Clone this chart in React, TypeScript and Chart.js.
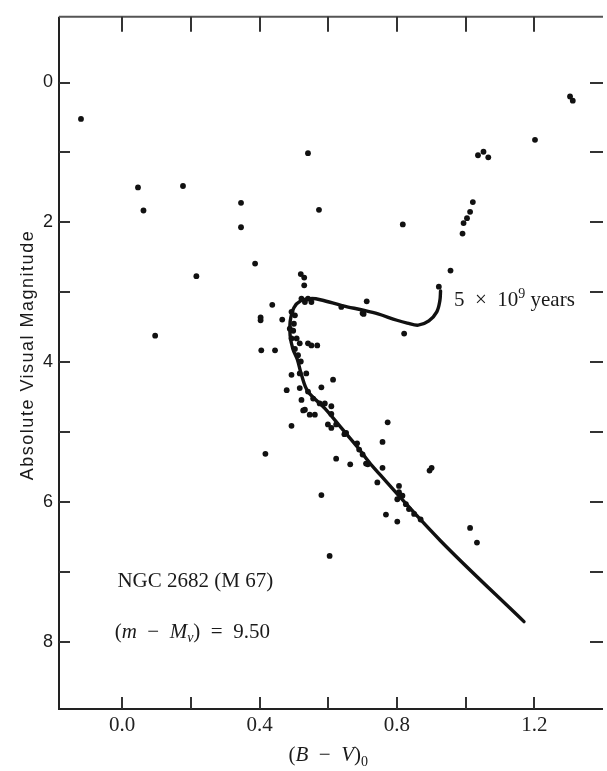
import React, { useEffect, useRef } from "react";
import { Chart, registerables } from "chart.js";

Chart.register(...registerables);

// Star colours (B-V)0 and absolute visual magnitudes
const starBV = [
  -0.12, 0.046, 0.062, 0.177, 0.346, 0.346, 0.387, 0.541, 0.573, 0.817,
  1.021, 1.013, 1.004, 0.994, 0.991, 1.036, 1.052, 1.066, 1.202, 1.304,
  1.312, 0.216, 0.096, 0.437, 0.403, 0.403, 0.466, 0.405, 0.445, 0.479,
  0.493, 0.417, 0.956, 0.922, 0.712, 0.821, 0.638, 0.7, 0.614, 0.58,
  0.773, 0.758, 0.684, 0.623, 0.664, 0.758, 0.895, 0.901, 0.58, 0.768,
  0.801, 1.013, 1.033, 0.604, 0.52, 0.53, 0.53, 0.522, 0.541, 0.551,
  0.532, 0.493, 0.503, 0.703, 0.488, 0.493, 0.508, 0.517, 0.551, 0.568,
  0.503, 0.512, 0.52, 0.493, 0.517, 0.536, 0.517, 0.541, 0.522, 0.556,
  0.575, 0.59, 0.609, 0.527, 0.546, 0.561, 0.609, 0.599, 0.623, 0.609,
  0.652, 0.71, 0.715, 0.743, 0.806, 0.806, 0.816, 0.801, 0.826, 0.835,
  0.869, 0.85, 0.541, 0.532, 0.647, 0.498, 0.5, 0.69, 0.7,
];
const starMv = [
  0.52, 1.5, 1.83, 1.48, 1.72, 2.07, 2.59, 1.01, 1.82, 2.03,
  1.71, 1.85, 1.94, 2.01, 2.16, 1.04, 0.99, 1.07, 0.82, 0.2,
  0.26, 2.77, 3.62, 3.18, 3.36, 3.4, 3.39, 3.83, 3.83, 4.4,
  4.91, 5.31, 2.69, 2.92, 3.13, 3.59, 3.21, 3.3, 4.25, 4.36,
  4.86, 5.14, 5.16, 5.38, 5.46, 5.51, 5.55, 5.51, 5.9, 6.18,
  6.28, 6.37, 6.58, 6.77, 2.74, 2.79, 2.9, 3.09, 3.09, 3.14,
  3.14, 3.28, 3.33, 3.31, 3.52, 3.66, 3.66, 3.73, 3.76, 3.76,
  3.81, 3.9, 3.99, 4.18, 4.16, 4.16, 4.37, 4.42, 4.54, 4.52,
  4.59, 4.59, 4.63, 4.69, 4.75, 4.75, 4.74, 4.89, 4.89, 4.94,
  5.01, 5.45, 5.46, 5.72, 5.77, 5.86, 5.91, 5.96, 6.03, 6.1,
  6.25, 6.17, 3.73, 4.68, 5.03, 3.55, 3.45, 5.25, 5.32,
];

// 5 x 10^9 year isochrone
const isoBV = [
  0.927, 0.925, 0.916, 0.893, 0.862, 0.83, 0.8, 0.745, 0.705, 0.64,
  0.58, 0.55, 0.52, 0.5, 0.489, 0.489, 0.497, 0.51, 0.522, 0.541,
  0.59, 0.638, 0.686, 0.724, 0.926, 1.17,
];
const isoMv = [
  2.98, 3.12, 3.28, 3.41, 3.47, 3.44, 3.4, 3.31, 3.26, 3.19,
  3.11, 3.09, 3.12, 3.22, 3.42, 3.62, 3.81, 3.96, 4.18, 4.42,
  4.66, 4.94, 5.22, 5.46, 6.55, 7.71,
];

const xTickValues = [0, 0.2, 0.4, 0.6, 0.8, 1.0, 1.2];
const xLabelValues = [0, 0.4, 0.8, 1.2];
const xLabelTexts = ["0.0", "0.4", "0.8", "1.2"];
const yTickValues = [0, 1, 2, 3, 4, 5, 6, 7, 8];
const yLabelValues = [0, 2, 4, 6, 8];
const yLabelTexts = ["0", "2", "4", "6", "8"];

const SERIF = "'Liberation Serif', 'Times New Roman', serif";
const SANS = "'Liberation Sans', Arial, sans-serif";

type Seg = { t: string; font: string; dy?: number };

function drawRich(ctx: CanvasRenderingContext2D, segs: Seg[], x: number, y: number, align: "left" | "center") {
  ctx.save();
  ctx.textBaseline = "alphabetic";
  ctx.textAlign = "left";
  let total = 0;
  for (const s of segs) {
    ctx.font = s.font;
    total += ctx.measureText(s.t).width;
  }
  let cx = align === "center" ? x - total / 2 : x;
  for (const s of segs) {
    ctx.font = s.font;
    ctx.fillText(s.t, cx, y + (s.dy || 0));
    cx += ctx.measureText(s.t).width;
  }
  ctx.restore();
}

const framePlugin = {
  id: "frame",
  afterDraw(chart: any) {
    const { ctx, chartArea, scales } = chart;
    const { left, right, top, bottom } = chartArea;
    const xs = scales.x;
    const ys = scales.y;
    ctx.save();
    ctx.strokeStyle = "#222";
    ctx.lineWidth = 2;
    ctx.beginPath();
    ctx.moveTo(left, top);
    ctx.lineTo(left, bottom);
    ctx.lineTo(right, bottom);
    ctx.stroke();
    ctx.strokeStyle = "#555";
    ctx.beginPath();
    ctx.moveTo(left, top);
    ctx.lineTo(right, top);
    ctx.stroke();
    ctx.strokeStyle = "#333";
    ctx.lineWidth = 2;
    for (const v of xTickValues) {
      const px = Math.round(xs.getPixelForValue(v));
      ctx.beginPath();
      ctx.moveTo(px, bottom);
      ctx.lineTo(px, bottom - 12);
      ctx.moveTo(px, top);
      ctx.lineTo(px, top + 15);
      ctx.stroke();
    }
    for (const v of yTickValues) {
      const py = Math.round(ys.getPixelForValue(v));
      ctx.beginPath();
      ctx.moveTo(left, py);
      ctx.lineTo(left + 11, py);
      ctx.moveTo(right, py);
      ctx.lineTo(right - 13, py);
      ctx.stroke();
    }

    ctx.fillStyle = "#1a1a1a";
    // y title
    ctx.save();
    ctx.translate(28, 355);
    ctx.rotate(-Math.PI / 2);
    ctx.font = `18px ${SANS}`;
    (ctx as any).letterSpacing = "1.5px";
    ctx.textAlign = "center";
    ctx.textBaseline = "middle";
    ctx.fillText("Absolute Visual Magnitude", 0, 0);
    ctx.restore();

    const reg = `21px ${SERIF}`;
    const ita = `italic 21px ${SERIF}`;
    const small = `14px ${SERIF}`;

    // x title
    drawRich(ctx, [
      { t: "(", font: reg },
      { t: "B", font: ita },
      { t: "  \u2212  ", font: reg },
      { t: "V", font: ita },
      { t: ")", font: reg },
      { t: "0", font: small, dy: 5 },
    ], xs.getPixelForValue(0.6), 761, "center");

    // annotations
    drawRich(ctx, [{ t: "NGC 2682 (M 67)", font: reg }],
      xs.getPixelForValue(-0.014), ys.getPixelForValue(7.21), "left");
    drawRich(ctx, [
      { t: "(", font: reg },
      { t: "m", font: ita },
      { t: "  \u2212  ", font: reg },
      { t: "M", font: ita },
      { t: "v", font: `italic 14px ${SERIF}`, dy: 4 },
      { t: ")  =  9.50", font: reg },
    ], xs.getPixelForValue(-0.022), ys.getPixelForValue(7.95), "left");
    drawRich(ctx, [
      { t: "5  \u00d7  10", font: reg },
      { t: "9", font: small, dy: -8 },
      { t: " years", font: reg },
    ], xs.getPixelForValue(0.966), ys.getPixelForValue(3.2), "left");
    ctx.restore();
  },
};

export default function App() {
  const ref = useRef<HTMLCanvasElement | null>(null);
  useEffect(() => {
    if (!ref.current) return;
    const chart = new Chart(ref.current, {
      type: "scatter",
      data: {
        datasets: [
          {
            label: "Isochrone",
            data: isoBV.map((x, i) => ({ x, y: isoMv[i] })),
            showLine: true,
            borderColor: "#111",
            borderWidth: 3.4,
            pointRadius: 0,
            tension: 0.35,
            borderCapStyle: "round",
            borderJoinStyle: "round",
          } as any,
          {
            label: "Stars",
            data: starBV.map((x, i) => ({ x, y: starMv[i] })),
            pointRadius: 2.9,
            pointBackgroundColor: "#111",
            pointBorderWidth: 0,
            showLine: false,
          } as any,
        ],
      },
      options: {
        animation: false,
        responsive: false,
        devicePixelRatio: 1,
        layout: { padding: { top: 11, right: 0, left: 0, bottom: 0 } },
        plugins: { legend: { display: false }, tooltip: { enabled: false } },
        scales: {
          x: {
            type: "linear",
            min: -0.184,
            max: 1.4,
            afterBuildTicks: (s: any) => {
              s.ticks = xTickValues.map((v) => ({ value: v }));
            },
            afterFit: (s: any) => {
              s.height = 62;
            },
            ticks: {
              autoSkip: false,
              maxRotation: 0,
              padding: 4,
              color: "#222",
              font: { family: SERIF, size: 21 },
              callback: (v: any) => {
                const i = xLabelValues.findIndex((l) => Math.abs(l - Number(v)) < 1e-6);
                return i >= 0 ? xLabelTexts[i] : "";
              },
            },
            grid: { display: false, drawTicks: false },
            border: { display: false },
          },
          y: {
            type: "linear",
            reverse: true,
            min: -0.94,
            max: 8.96,
            afterBuildTicks: (s: any) => {
              s.ticks = yTickValues.map((v) => ({ value: v }));
            },
            afterFit: (s: any) => {
              s.width = 59;
            },
            ticks: {
              autoSkip: false,
              padding: 6,
              color: "#1a1a1a",
              font: { family: SANS, size: 18 },
              callback: (v: any) => {
                const i = yLabelValues.findIndex((l) => Math.abs(l - Number(v)) < 1e-6);
                return i >= 0 ? yLabelTexts[i] : "";
              },
            },
            grid: { display: false, drawTicks: false },
            border: { display: false },
          },
        },
      } as any,
      plugins: [framePlugin],
    });
    return () => chart.destroy();
  }, []);
  return (
    <div style={{ position: "fixed", left: 0, top: 0, width: 607, height: 771, background: "#fff" }}>
      <canvas ref={ref} width={607} height={771} />
    </div>
  );
}
